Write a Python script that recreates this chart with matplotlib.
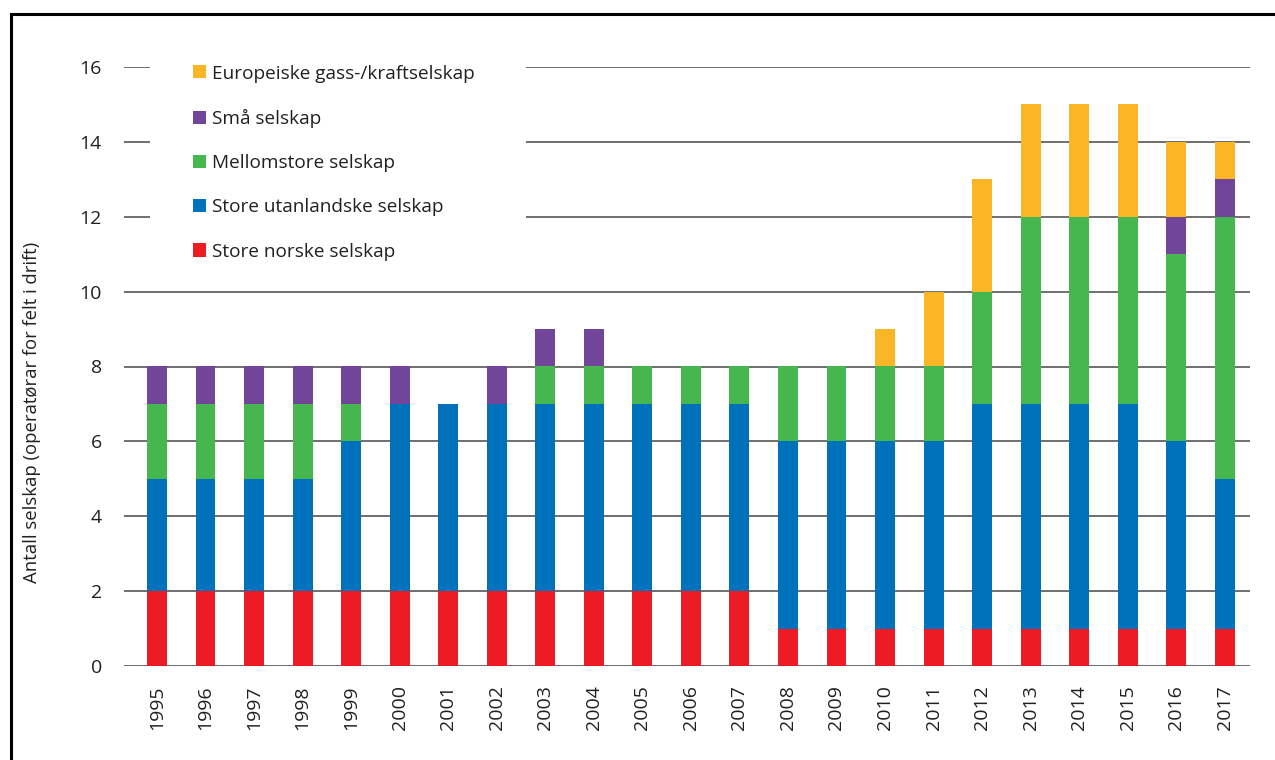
import numpy as np
import matplotlib.pyplot as plt
from matplotlib.patches import Rectangle
from matplotlib.transforms import IdentityTransform

plt.rcParams['font.family'] = ['Open Sans', 'DejaVu Sans']

# Antall operatørselskap per år, etter type
years = [str(y) for y in range(1995, 2018)]
store_norske = [2, 2, 2, 2, 2, 2, 2, 2, 2, 2, 2, 2, 2, 1, 1, 1, 1, 1, 1, 1, 1, 1, 1]
store_utanlandske = [3, 3, 3, 3, 4, 5, 5, 5, 5, 5, 5, 5, 5, 5, 5, 5, 5, 6, 6, 6, 6, 5, 4]
mellomstore = [2, 2, 2, 2, 1, 0, 0, 0, 1, 1, 1, 1, 1, 2, 2, 2, 2, 3, 5, 5, 5, 5, 7]
smaa = [1, 1, 1, 1, 1, 1, 0, 1, 1, 1, 0, 0, 0, 0, 0, 0, 0, 0, 0, 0, 0, 1, 1]
europeiske = [0, 0, 0, 0, 0, 0, 0, 0, 0, 0, 0, 0, 0, 0, 0, 1, 2, 3, 3, 3, 3, 2, 1]

series = [
    ('Store norske selskap', store_norske, '#ED1C24'),
    ('Store utanlandske selskap', store_utanlandske, '#0072BC'),
    ('Mellomstore selskap', mellomstore, '#46B64E'),
    ('Små selskap', smaa, '#71459A'),
    ('Europeiske gass-/kraftselskap', europeiske, '#FBB625'),
]

fig = plt.figure(figsize=(12.75, 7.6), dpi=100)
ax = fig.add_axes([124 / 1275, 1 - 666 / 760, 1126 / 1275, 599 / 760])

x = np.arange(len(years))
bottom = np.zeros(len(years))
handles = []
for name, vals, col in series:
    vals = np.array(vals, dtype=float)
    b = ax.bar(x, vals, bottom=bottom, width=0.41, color=col, label=name, zorder=3)
    handles.append(b)
    bottom += vals

ax.set_xlim(-0.68, 22.52)
ax.set_ylim(0, 16)
ax.set_yticks(range(0, 17, 2))
ax.set_xticks(x)
ax.set_xticklabels(years, rotation=90)
ax.tick_params(axis='both', length=0, labelsize=14, colors='#231f20')
ax.tick_params(axis='y', pad=16)
ax.tick_params(axis='x', pad=14)
for s in ax.spines.values():
    s.set_visible(False)
ax.grid(axis='y', color='#555555', linewidth=1.2, zorder=0)
ax.set_axisbelow(True)

# kvitt felt bak teiknforklaringa (bryt rutenettet), i pikslar
ax.add_patch(Rectangle((150, 490), 376, 215, transform=IdentityTransform(),
                       facecolor='white', edgecolor='none', zorder=2))

fig.text(32 / 1275, 1 - 412 / 760, 'Antall selskap (operatørar for felt i drift)',
         rotation=90, ha='center', va='center', fontsize=13.3, color='#231f20')

leg = ax.legend(handles[::-1], [s[0] for s in series][::-1],
                loc='upper left', bbox_to_anchor=(0.0613, 1.004),
                fontsize=13.7, frameon=False, handlelength=0.68, handleheight=0.68,
                handletextpad=0.3, labelspacing=1.38, borderpad=0,
                borderaxespad=0)
for t in leg.get_texts():
    t.set_color('#231f20')
leg.set_zorder(5)

# ramme rundt figuren
fig.add_artist(Rectangle((11 / 1275, -0.1), 1.2, 1.1 - 14 / 760, transform=fig.transFigure,
                         fill=False, edgecolor='black', linewidth=2.2))

fig.savefig('out.png', dpi=100)
